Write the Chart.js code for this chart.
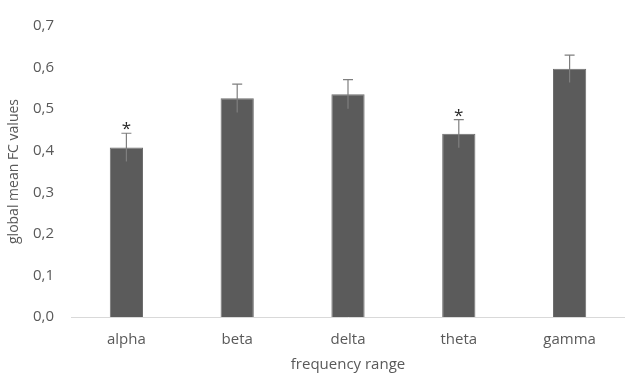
<!DOCTYPE html>
<html><head><meta charset="utf-8">
<script src="https://cdn.jsdelivr.net/npm/chart.js@4/dist/chart.umd.min.js"></script>
<style>html,body{margin:0;padding:0;background:#fff}#w{width:625px;height:374px}</style>
</head><body><div id="w"><canvas id="c"></canvas></div>
<script>
const categories = ["alpha", "beta", "delta", "theta", "gamma"];
const meanValues = [0.408, 0.526, 0.536, 0.441, 0.597];
const errorValues = [0.034, 0.034, 0.035, 0.034, 0.033];
const significance = ["*", "", "", "*", ""];
const yTicks = [0, 0.1, 0.2, 0.3, 0.4, 0.5, 0.6, 0.7];

const FONT = "'Open Sans', 'Liberation Sans', sans-serif";
const TXT = "#595959";

const errPlugin = {
  id: 'errbars',
  afterDatasetsDraw(chart) {
    const ctx = chart.ctx, x = chart.scales.x, y = chart.scales.y;
    ctx.save();
    ctx.strokeStyle = "#7f7f7f";
    ctx.lineWidth = 1.2;
    meanValues.forEach((v, i) => {
      const cx = x.getPixelForValue(i);
      const yTop = y.getPixelForValue(v + errorValues[i]);
      const yBot = y.getPixelForValue(v - errorValues[i]);
      ctx.beginPath();
      ctx.moveTo(cx, yBot); ctx.lineTo(cx, yTop);
      ctx.moveTo(cx - 5, yTop); ctx.lineTo(cx + 5, yTop);
      ctx.stroke();
      if (significance[i]) {
        ctx.fillStyle = "#262626";
        ctx.font = "17px " + FONT;
        ctx.textAlign = "center";
        ctx.textBaseline = "alphabetic";
        ctx.fillText(significance[i], cx, yTop + 1);
      }
    });
    ctx.restore();
  }
};

new Chart(document.getElementById('c'), {
  type: 'bar',
  data: {
    labels: categories,
    datasets: [{
      data: meanValues,
      backgroundColor: "#5b5b5b",
      borderColor: "#6e6e6e",
      borderWidth: 1,
      categoryPercentage: 0.3,
      barPercentage: 1.0
    }]
  },
  options: {
    responsive: true,
    maintainAspectRatio: false,
    animation: false,
    layout: { padding: { top: 18, right: 0, left: 6, bottom: 0 } },
    plugins: { legend: { display: false }, tooltip: { enabled: false } },
    scales: {
      x: {
        grid: { display: false, drawTicks: false },
        border: { color: "#d9d9d9", width: 1 },
        ticks: { color: TXT, font: { family: FONT, size: 15 }, padding: 14 },
        title: { display: true, text: "frequency range", color: TXT, font: { family: FONT, size: 15 }, padding: { top: 4, bottom: 0 } },
        afterFit(s) { s.height = 57; }
      },
      y: {
        min: 0, max: 0.7,
        afterBuildTicks(s) { s.ticks = yTicks.map(v => ({ value: v })); },
        grid: { display: false, drawTicks: false },
        border: { display: false },
        ticks: {
          color: TXT, font: { family: FONT, size: 15 }, padding: 17,
          callback: v => v.toFixed(1).replace('.', ',')
        },
        title: { display: true, text: "global mean FC values", color: TXT, font: { family: FONT, size: 14 }, padding: { top: 0, bottom: 2 } },
        afterFit(s) { s.width = 65; }
      }
    }
  },
  plugins: [errPlugin]
});
</script>
</body></html>
